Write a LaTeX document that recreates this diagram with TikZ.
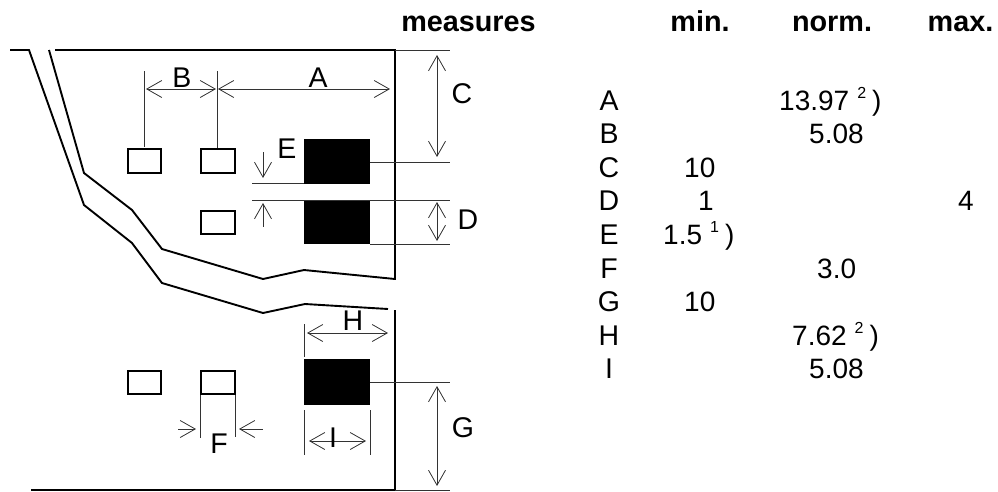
\documentclass[tikz,border=0pt]{standalone}
\usepackage{fontspec}
\setmainfont{Liberation Sans}
\usetikzlibrary{arrows.meta}
\tikzset{>={Straight Barb[length=15pt,width=17pt,line width=0.8pt]}}
\tikzset{
  outline/.style={line width=1.9pt},
  thinline/.style={line width=1pt, black!80},
  dimline/.style={line width=0.9pt, black!80, <->},
  padbox/.style={draw, line width=2.5pt, fill=white},
  blackpad/.style={fill=black},
  letter/.style={font=\fontsize{28.5}{33}\selectfont, inner sep=0pt, anchor=base},
  cell/.style={font=\fontsize{28}{33}\selectfont, inner sep=0pt, anchor=base west},
  head/.style={font=\fontsize{28.8}{33}\selectfont\bfseries, inner sep=0pt, anchor=base}
}
\newcommand{\noteref}[1]{\hspace{8pt}\raisebox{12pt}{\fontsize{16}{16}\selectfont #1}\hspace{6pt})}

\begin{document}
\begin{tikzpicture}[x=1pt, y=-1pt]
      \useasboundingbox (0,0) rectangle (998,491);
      % board outline
      \draw[outline] (10,50) -- (29,50) -- (84,205) -- (132,243) -- (162,283)
            -- (263,313) -- (305,304) -- (388,309);
      \draw[outline] (55,50) -- (395,50) -- (395,280);
      \draw[outline] (49,50) -- (84,173) -- (132,210) -- (162,249) -- (263,279)
            -- (304,270) -- (395,279);
      \draw[outline] (395,310) -- (395,490) -- (31,490);
      % pads
      \draw[padbox] (128,149) rectangle (161,173);
      \draw[padbox] (201,149) rectangle (235,173);
      \draw[padbox] (201,211) rectangle (235,234);
      \draw[padbox] (128,371) rectangle (161,394);
      \draw[padbox] (201,371) rectangle (235,394);
      \fill[blackpad] (304,139) rectangle (370,184);
      \fill[blackpad] (304,200) rectangle (370,244);
      \fill[blackpad] (304,359) rectangle (370,405);
      % extension lines
      \draw[thinline] (144.5,71) -- (144.5,147);
      \draw[thinline] (217,71) -- (217,148);
      \draw[thinline] (395,50) -- (450,50);
      \draw[thinline] (370,162) -- (450,162);
      \draw[thinline] (252,183) -- (304,183);
      \draw[thinline] (252,200) -- (450,200);
      \draw[thinline] (370,244) -- (450,244);
      \draw[thinline] (304,324) -- (304,357);
      \draw[thinline] (370,382) -- (450,382);
      \draw[thinline] (395,490) -- (450,490);
      \draw[thinline] (200.5,395) -- (200.5,438);
      \draw[thinline] (235,395) -- (235,437);
      \draw[thinline] (304,410) -- (304,455);
      \draw[thinline] (370,410) -- (370,455);
      % dimension arrows
      \draw[dimline] (146,89) -- (216,89);
      \draw[dimline] (218,89) -- (390,89);
      \draw[dimline] (437,55) -- (437,157);
      \draw[dimline] (437,202) -- (437,241);
      \draw[dimline] (437,386) -- (437,486);
      \draw[dimline] (307,333) -- (388,333);
      \draw[dimline] (309,441) -- (366,441);
      \draw[dimline, <-] (263,178) -- (263,152);
      \draw[dimline, <-] (263,203) -- (263,227);
      \draw[dimline, <-] (196,429) -- (178,429);
      \draw[dimline, <-] (239,429) -- (263,429);
      % drawing labels
      \node[letter] (labelA) at (318,87) {A};
      \node[letter] (labelB) at (182,87) {B};
      \node[letter] (labelC) at (462,103) {C};
      \node[letter] (labelD) at (468,229) {D};
      \node[letter] (labelE) at (287,158) {E};
      \node[letter] (labelF) at (219,453) {F};
      \node[letter] (labelG) at (463,437) {G};
      \node[letter] (labelH) at (353,330) {H};
      \node[letter] (labelI) at (333,447) {I};
      % table
      \node[head] (headMeasures) at (468.5,31) {measures};
      \node[head] (headMin) at (700,31) {min.};
      \node[head] (headNorm) at (832,31) {norm.};
      \node[head] (headMax) at (960.5,31) {max.};
      \node[letter] (rowA) at (609,110) {A};
      \node[letter] (rowB) at (609,143.6) {B};
      \node[letter] (rowC) at (609,177.2) {C};
      \node[letter] (rowD) at (609,210.8) {D};
      \node[letter] (rowE) at (609,244.4) {E};
      \node[letter] (rowF) at (609,278) {F};
      \node[letter] (rowG) at (609,311.6) {G};
      \node[letter] (rowH) at (609,345.2) {H};
      \node[letter] (rowI) at (609,378.8) {I};
      \node[cell] (normA) at (779,110) {13.97\noteref{2}};
      \node[cell] (normB) at (809,143.6) {5.08};
      \node[cell] (minC) at (684,177.2) {10};
      \node[cell] (minD) at (698,210.8) {1};
      \node[cell] (maxD) at (958,210.8) {4};
      \node[cell] (minE) at (663,244.4) {1.5\noteref{1}};
      \node[cell] (normF) at (817,278) {3.0};
      \node[cell] (minG) at (684,311.6) {10};
      \node[cell] (normH) at (792,345.2) {7.62\noteref{2}};
      \node[cell] (normI) at (809,378.8) {5.08};
\end{tikzpicture}
\end{document}
